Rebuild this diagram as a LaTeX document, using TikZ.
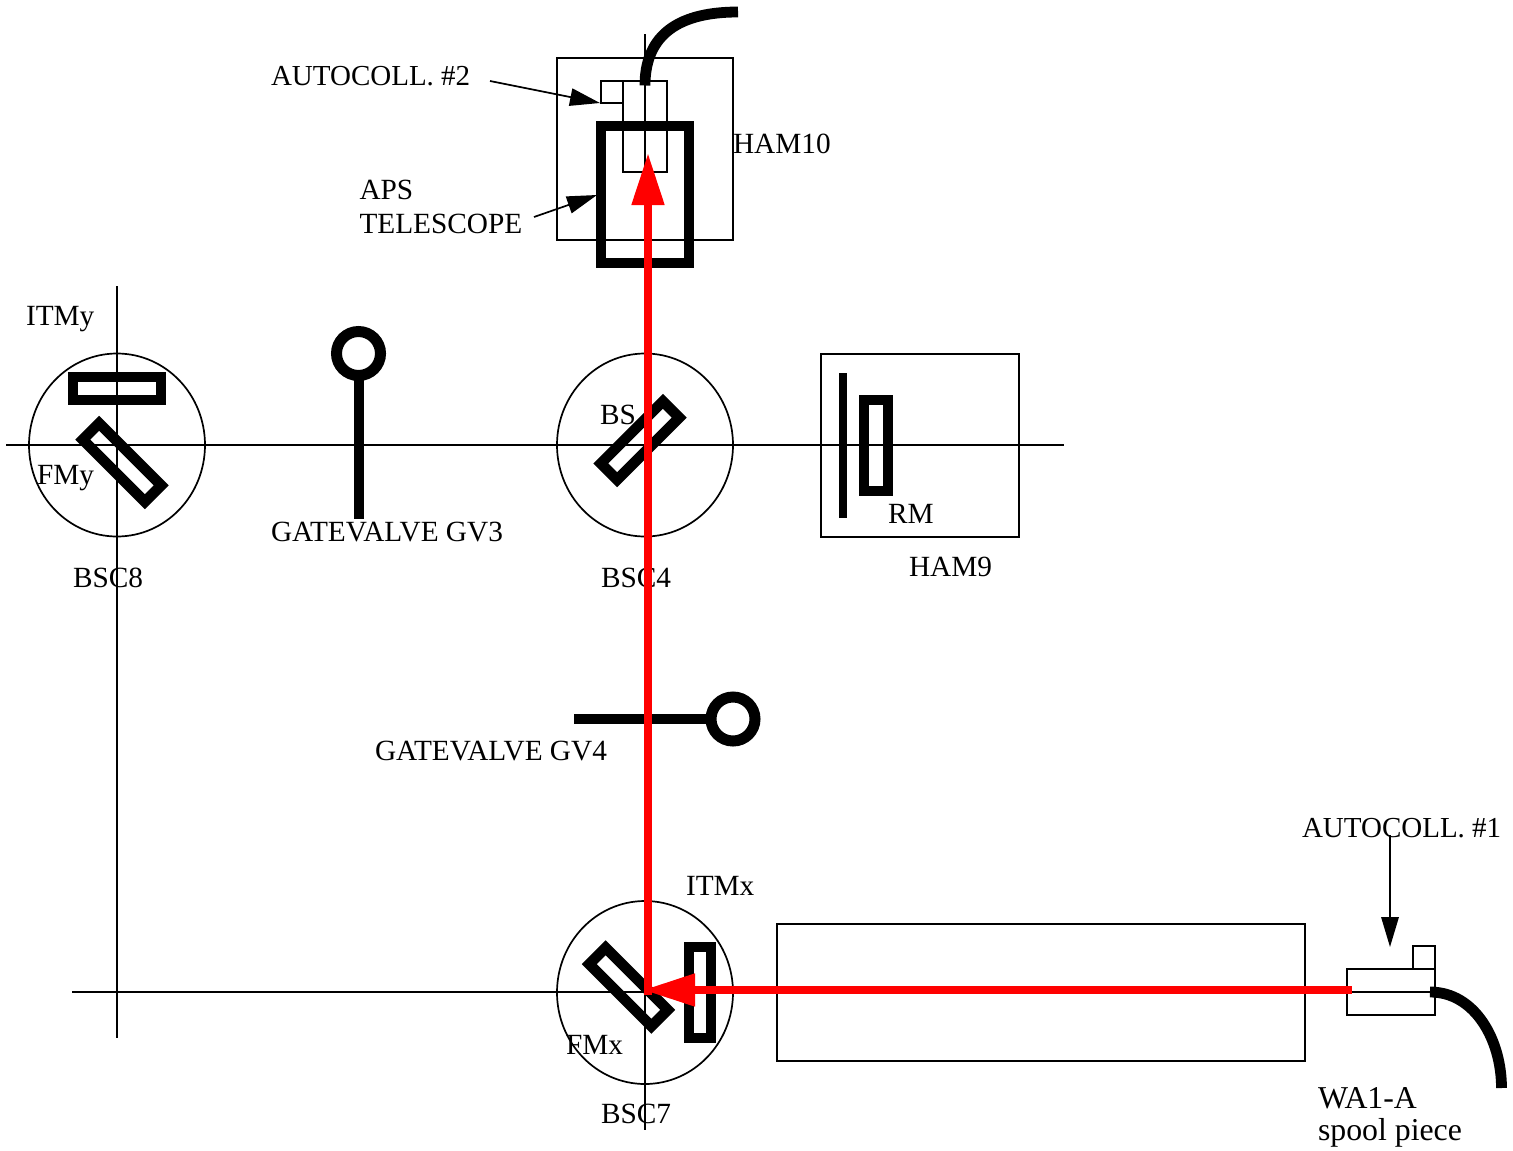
\documentclass[tikz,border=0pt]{standalone}
\usepackage{fontspec}
\setmainfont{Liberation Serif}
\usetikzlibrary{arrows.meta}
\tikzset{
  thin line/.style={draw=black,line width=1.7pt},
  thick box/.style={draw=black,line width=10.6pt,miter limit=10},
  fibre/.style={draw=black,line width=10.8pt,line cap=butt},
  valve/.style={draw=black,line width=10pt},
  valve ring/.style={draw=black,line width=11pt},
  pointer/.style={draw=black,line width=1.7pt,-{Triangle[length=30pt,width=17.5pt]}},
  beam/.style={draw=red,line width=8pt,-{Triangle[length=52pt,width=31pt]}},
  lab/.style={anchor=base west,inner sep=0pt,outer sep=0pt,font=\fontsize{29.3}{34}\selectfont,text=black},
  labauto/.style={lab,font=\fontsize{29}{34}\selectfont},
  labbig/.style={lab,font=\fontsize{31.8}{34}\selectfont},
}
\begin{document}
\begin{tikzpicture}[x=1pt,y=-1pt]
\useasboundingbox (0,0) rectangle (1513,1151);
% axes
\coordinate (h1a) at (6,445);    \coordinate (h1b) at (1064,445);
\coordinate (h2a) at (72,992); \coordinate (h2b) at (1431,992);
\coordinate (v1a) at (117,286);  \coordinate (v1b) at (117,1038);
\coordinate (v2a) at (645,34);   \coordinate (v2b) at (645,172);
\coordinate (v3a) at (645,992);  \coordinate (v3b) at (645,1130);
\draw[thin line] (h1a) -- (h1b);
\draw[thin line] (h2a) -- (h2b);
\draw[thin line] (v1a) -- (v1b);
\draw[thin line] (v2a) -- (v2b);
\draw[thin line] (v3a) -- (v3b);
% chambers
\draw[thin line] (117,445) ellipse [x radius=88,y radius=91.5];
\draw[thin line] (645,445) ellipse [x radius=88,y radius=91.5];
\draw[thin line] (645,992.5) ellipse [x radius=88,y radius=91.5];
\draw[thin line] (557,58) rectangle (733,240);
\draw[thin line] (821,354) rectangle (1019,537);
\draw[thin line] (777,924) rectangle (1305,1061);
% autocollimators
\draw[thin line] (623,81) rectangle (667,172);
\draw[thin line] (601,81) rectangle (623,103);
\draw[thin line] (1347,969) rectangle (1435,1015);
\draw[thin line] (1413,946) rectangle (1435,969);
% optics
\draw[thick box] (601,126) rectangle (689,263);
\draw[thick box] (73,377) rectangle (161,400);
\draw[thick box,rotate around={-45:(122,462.5)}] (78,451) rectangle (166,474);
\draw[thick box,rotate around={45:(640,440.5)}] (596,429) rectangle (684,452);
\draw[thick box,rotate around={-45:(628.5,987)}] (584.5,975.5) rectangle (672.5,998.5);
\draw[thick box] (689,947) rectangle (711,1038);
\draw[thick box] (864,400) rectangle (888,491);
\draw[draw=black,line width=8pt] (843,373) -- (843,518);
% gate valves
\coordinate (gv3a) at (359,376); \coordinate (gv3b) at (359,519);
\coordinate (gv4a) at (711,719); \coordinate (gv4b) at (574,719);
\draw[valve ring] (358.5,353.5) circle [radius=22];
\draw[valve] (gv3a) -- (gv3b);
\draw[valve ring] (733,719) circle [radius=22];
\draw[valve] (gv4a) -- (gv4b);
% fibres
\coordinate (f1a) at (645,85.5);    \coordinate (f1b) at (738,12);
\coordinate (f2a) at (1430,992);  \coordinate (f2b) at (1501.5,1088);
\draw[fibre] (f1a) .. controls (645,40) and (672,12) .. (f1b);
\draw[fibre] (f2a) .. controls (1475,992) and (1501.5,1040) .. (f2b);
% pointers
\coordinate (p1a) at (490,81);   \coordinate (p1b) at (600,103);
\coordinate (p2a) at (534,217);  \coordinate (p2b) at (597,195);
\coordinate (p3a) at (1390,835); \coordinate (p3b) at (1390,947);
\draw[pointer] (p1a) -- (p1b);
\draw[pointer] (p2a) -- (p2b);
\draw[pointer] (p3a) -- (p3b);
% labels
\node[labauto] (tAuto2) at (271,85) {AUTOCOLL. \#2};
\node[lab] (tHam10) at (733,153) {HAM10};
\node[lab] (tAps) at (359.5,199) {APS};
\node[lab] (tTele) at (359.5,233) {TELESCOPE};
\node[lab] (tItmy) at (26,325) {ITMy};
\node[lab] (tBs) at (600,424) {BS};
\node[lab] (tFmy) at (37,484) {FMy};
\node[lab] (tGv3) at (271,541) {GATEVALVE GV3};
\node[lab] (tBsc8) at (73,587) {BSC8};
\node[lab] (tBsc4) at (601,587) {BSC4};
\node[lab] (tRm) at (888,523) {RM};
\node[lab] (tHam9) at (909,576) {HAM9};
\node[lab] (tGv4) at (375,760) {GATEVALVE GV4};
\node[labauto] (tAuto1) at (1302,837) {AUTOCOLL. \#1};
\node[lab] (tItmx) at (686,895) {ITMx};
\node[lab] (tFmx) at (566,1054) {FMx};
\node[lab] (tBsc7) at (601,1123) {BSC7};
\node[labbig] (tWa) at (1318,1108) {WA1-A};
\node[labbig] (tSpool) at (1318,1140) {spool piece};
% beams
\coordinate (b1a) at (648,995);  \coordinate (b1b) at (648,153);
\coordinate (b2a) at (1352,990); \coordinate (b2b) at (643,990);
\draw[beam] (b1a) -- (b1b);
\draw[beam] (b2a) -- (b2b);
\end{tikzpicture}
\end{document}
